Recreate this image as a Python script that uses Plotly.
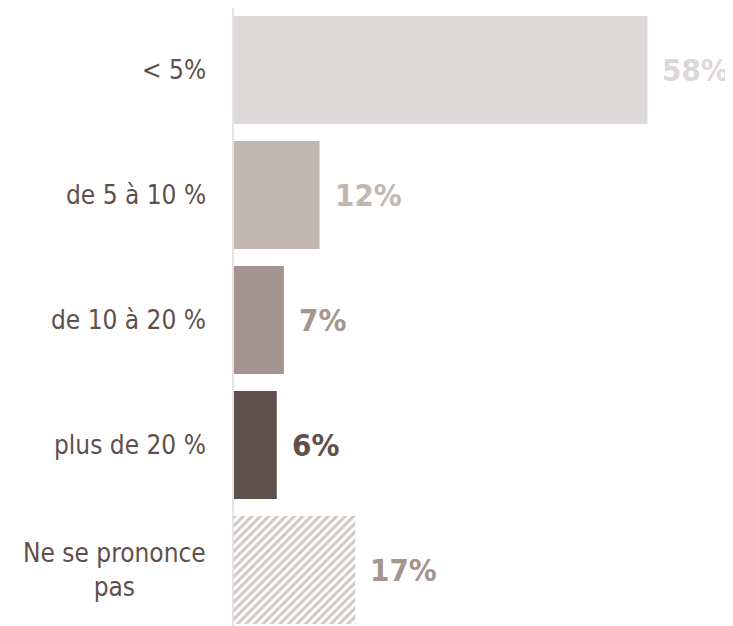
import plotly.graph_objects as go

categories = ["< 5%", "de 5 à 10 %", "de 10 à 20 %", "plus de 20 %", "Ne se prononce<br>pas"]
values = [58, 12, 7, 6, 17]
value_labels = ["58%", "12%", "7%", "6%", "17%"]

bar_colors = ["#ded9d9", "#c1b8b4", "#a4958f", "#5e514d", "#ffffff"]
text_colors = ["#ddd8d8", "#c1b8b4", "#a4958f", "#5e514d", "#a4958f"]
label_color = "#5e514d"
font_family = "DejaVu Sans Condensed, Liberation Sans Narrow, sans-serif"

fig = go.Figure()
fig.add_trace(go.Bar(
    x=values,
    y=categories,
    orientation="h",
    width=0.864,
    marker=dict(
        color=bar_colors,
        line=dict(width=0),
        pattern=dict(
            shape=["", "", "", "", "/"],
            fgcolor="#c1b8b4",
            bgcolor="#ffffff",
            size=6,
            solidity=0.5,
        ),
    ),
    hoverinfo="skip",
))
# light veil over the hatched bar so the stripes read as pale taupe
fig.add_trace(go.Bar(
    x=values[-1:],
    y=categories[-1:],
    orientation="h",
    width=0.864,
    marker=dict(color="rgba(255,248,244,0.45)", line=dict(width=0)),
    hoverinfo="skip",
))

for cat, val, lab, col in zip(categories, values, value_labels, text_colors):
    fig.add_annotation(
        x=val, y=cat, text="<b>%s</b>" % lab,
        xanchor="left", xshift=13, showarrow=False,
        font=dict(family=font_family, size=31, color=col),
    )
    fig.add_annotation(
        x=0, y=cat, xref="paper", text=cat,
        xanchor="right", xshift=-26, showarrow=False, align="center",
        font=dict(family=font_family, size=26, color=label_color),
    )

fig.update_xaxes(range=[0, 70], visible=False)
fig.update_yaxes(
    type="category",
    range=[4.448, -0.496],
    showticklabels=False,
    showgrid=False,
    zeroline=False,
    showline=True,
    linecolor="#e6e2e2",
    linewidth=2,
)
fig.update_layout(
    width=725,
    height=618,
    margin=dict(l=226, r=0, t=0, b=0),
    barmode="overlay",
    plot_bgcolor="white",
    paper_bgcolor="white",
    showlegend=False,
)
fig.write_html("out.html")
